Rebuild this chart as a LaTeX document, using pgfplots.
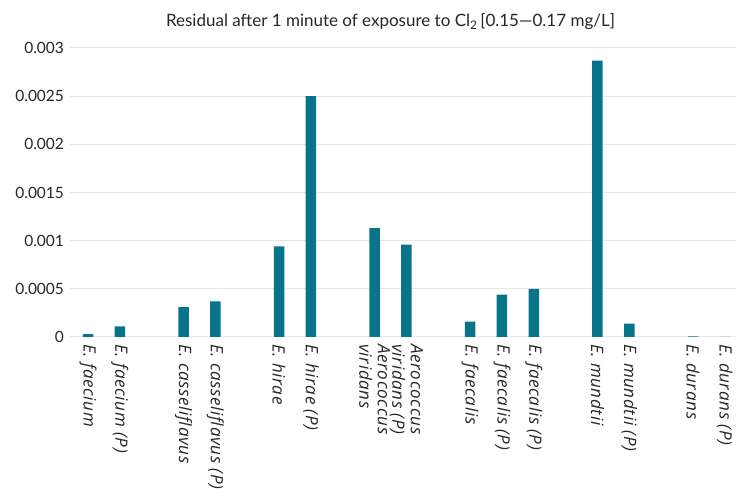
\documentclass[border=0pt]{standalone}
\usepackage{fontspec}
\setmainfont{Lato}
\newfontfamily\labelfont[LetterSpace=4]{Open Sans}
\usepackage{pgfplots}
\pgfplotsset{compat=1.18}
\definecolor{barteal}{RGB}{8,116,140}
\definecolor{gridgray}{RGB}{232,232,232}
\begin{document}
\begin{tikzpicture}
\useasboundingbox (0,0) rectangle (736pt,492pt);
\begin{axis}[
  at={(70.5pt,155pt)}, anchor=south west,
  scale only axis, width=665.5pt, height=289pt,
  xmin=-0.55, xmax=20.35, ymin=0, ymax=0.003,
  scaled y ticks=false,
  axis line style={draw=none},
  major tick length=0pt,
  ymajorgrids, grid style={gridgray, line width=1pt},
  ytick={0,0.0005,0.001,0.0015,0.002,0.0025,0.003},
  yticklabels={0,0.0005,0.001,0.0015,0.002,0.0025,0.003},
  yticklabel style={font=\fontsize{15.5}{18}\selectfont, anchor=east, xshift=-3pt, text=black!85},
  xtick={0,1,3,4,6,7,9,10,12,13,14,16,17,19,20},
  xticklabels={E. faecium, E. faecium (P), E. casseliflavus, E. casseliflavus (P), E. hirae, E. hirae (P), {Aerococcus\\viridans}, {Aerococcus\\viridans (P)}, E. faecalis, E. faecalis (P), E. faecalis (P), E. mundtii, E. mundtii (P), E. durans, E. durans (P)},
  xticklabel style={font=\labelfont\itshape\fontsize{17}{18.5}\selectfont, rotate=-90, anchor=west, align=left, inner xsep=7pt, text=black!85},
  clip=false,
]
\addplot[ybar, bar width=10.5pt, fill=barteal, draw=none] coordinates {
  (0,0.00003) (1,0.00011) (3,0.00031) (4,0.00037) (6,0.00094) (7,0.0025)
  (9,0.00113) (10,0.00096) (12,0.00016) (13,0.00044) (14,0.0005)
  (16,0.00287) (17,0.00014) (19,0.000006) (20,0)
};
\end{axis}
\node[anchor=base, font=\fontsize{17}{20}\selectfont, text=black!85] at (390.5pt,465.3pt) {Residual after 1 minute of exposure to Cl\textsubscript{2}\,[0.15---0.17 mg/L]};
\end{tikzpicture}
\end{document}
